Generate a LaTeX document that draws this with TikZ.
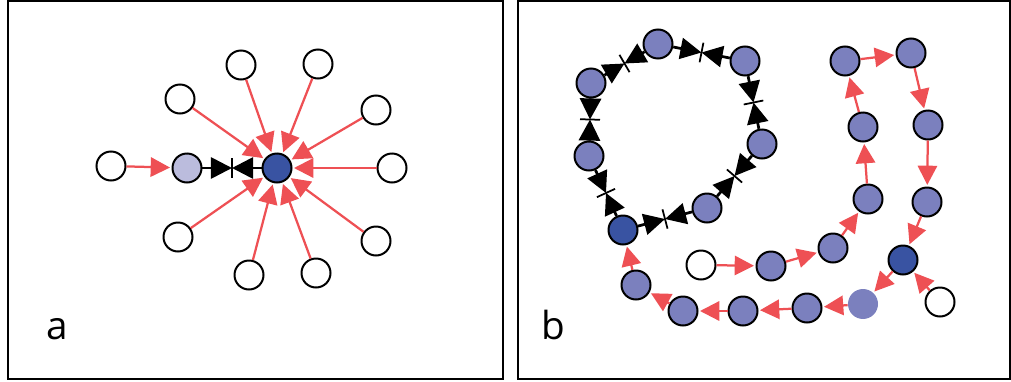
\documentclass[tikz,border=0pt]{standalone}
\usepackage{fontspec}
\setmainfont{Open Sans}
\usetikzlibrary{arrows.meta,calc}
\definecolor{hubblue}{HTML}{3953A2}
\definecolor{midblue}{HTML}{7B80BE}
\definecolor{paleblue}{HTML}{BBBCDD}
\definecolor{linkred}{HTML}{EE5054}
\tikzset{
  vtx/.style={circle, minimum size=0.58cm, inner sep=0pt, draw=black, line width=0.04cm, fill=white},
  hub/.style={vtx, fill=hubblue},
  member/.style={vtx, fill=midblue},
  seed/.style={vtx, fill=paleblue},
  ghost/.style={circle, minimum size=0.6cm, inner sep=0pt, fill=midblue},
  redtip/.tip={Triangle[length=11pt 0 0, width=11pt 0 0]},
  blacktip/.tip={Triangle[length=12pt 0 0, width=12pt 0 0]},
  redlink/.style={draw=linkred, line width=0.045cm, -redtip, shorten >=0.03cm},
  blacklink/.style={draw=black, line width=0.055cm, -blacktip},
  tickmark/.style={draw=black, line width=0.035cm},
  frame/.style={draw=black, line width=0.04cm},
  panellabel/.style={font=\fontsize{22}{26}\selectfont, anchor=base, inner sep=0pt}
}
% two opposing arrows meeting at a bar halfway between nodes #1 and #2
\newcommand\bowlink[3]{%
  \coordinate (#3) at ($(#1)!0.5!(#2)$);
  \draw[blacklink] (#1) -- (#3);
  \draw[blacklink] (#2) -- (#3);
  \draw[tickmark] ($(#3)!0.2cm!90:(#2)$) -- ($(#3)!0.2cm!-90:(#2)$);
}
\begin{document}
\begin{tikzpicture}[x=0.02cm, y=-0.02cm]
\useasboundingbox (0,0) rectangle (1011,382);
\draw[frame] (8,1) rectangle (503,379);
\draw[frame] (518,1) rectangle (1010,379);

% ---- panel a: star around a hub ----
\node[hub]  (hA) at (277,168) {};
\node[seed] (sA) at (187,168) {};
\node[vtx]  (w0) at (111,166) {};
\node[vtx]  (w1) at (180,99) {};
\node[vtx]  (w2) at (241,65) {};
\node[vtx]  (w3) at (318,64) {};
\node[vtx]  (w4) at (376,110) {};
\node[vtx]  (w5) at (392,168) {};
\node[vtx]  (w6) at (376,241) {};
\node[vtx]  (w7) at (316,273) {};
\node[vtx]  (w8) at (249,275) {};
\node[vtx]  (w9) at (178,237) {};
\foreach \n in {w1,w2,w3,w4,w5,w6,w7,w8,w9}
  \draw[redlink] (\n) -- (hA);
\draw[redlink] (w0) -- (sA);
\bowlink{sA}{hA}{mA}
\node[panellabel] (la) at (57,339) {a};

% ---- panel b: ring and chain ----
\node[member] (r1) at (658,44) {};
\node[member] (r2) at (745,61) {};
\node[member] (r3) at (762,144) {};
\node[member] (r4) at (707,208) {};
\node[hub]    (r5) at (623,230) {};
\node[member] (r6) at (589,156) {};
\node[member] (r7) at (591,83) {};
\bowlink{r1}{r2}{m12}
\bowlink{r2}{r3}{m23}
\bowlink{r3}{r4}{m34}
\bowlink{r4}{r5}{m45}
\bowlink{r5}{r6}{m56}
\bowlink{r6}{r7}{m67}
\bowlink{r7}{r1}{m71}

\node[vtx]    (u1) at (701,265) {};
\node[member] (c1) at (771,266) {};
\node[member] (c2) at (833,248) {};
\node[member] (c3) at (868,199) {};
\node[member] (c4) at (863,127) {};
\node[member] (c5) at (845,61) {};
\node[member] (c6) at (911,53) {};
\node[member] (c7) at (928,125) {};
\node[member] (c8) at (927,202) {};
\node[hub]    (h2) at (903,260) {};
\node[vtx]    (u2) at (940,302) {};
\node[ghost]  (g1) at (863,304) {};
\node[member] (b1) at (807,308) {};
\node[member] (b2) at (743,311) {};
\node[member] (b3) at (683,311) {};
\node[member] (b4) at (636,285) {};

\draw[redlink] (u1) -- (c1);
\draw[redlink] (c1) -- (c2);
\draw[redlink] (c2) -- (c3);
\draw[redlink] (c3) -- (c4);
\draw[redlink] (c4) -- (c5);
\draw[redlink] (c5) -- (c6);
\draw[redlink] (c6) -- (c7);
\draw[redlink] (c7) -- (c8);
\draw[redlink] (c8) -- (h2);
\draw[redlink] (u2) -- (h2);
\draw[redlink] (h2) -- (g1);
\draw[redlink] (g1) -- (b1);
\draw[redlink] (b1) -- (b2);
\draw[redlink] (b2) -- (b3);
\draw[redlink] (b3) -- (b4);
\draw[redlink] (b4) -- (r5);
\node[panellabel] (lb) at (553,339) {b};
\end{tikzpicture}
\end{document}
